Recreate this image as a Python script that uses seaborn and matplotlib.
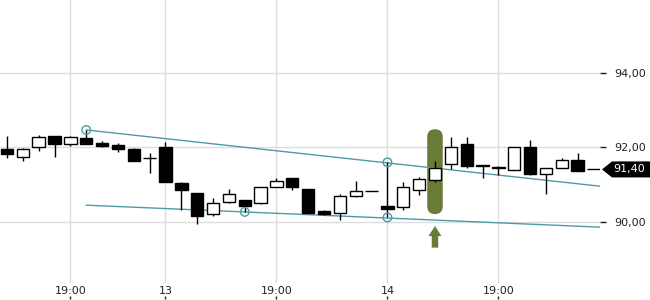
import numpy as np
import pandas as pd
import seaborn as sns
import matplotlib
matplotlib.use("Agg")
import matplotlib.pyplot as plt
import matplotlib.transforms as mtransforms
from matplotlib.patches import FancyBboxPatch, FancyArrow, Polygon

# ---- data -------------------------------------------------------------
opens = [91.95, 91.74, 91.99, 92.30, 92.07, 92.25, 92.10, 92.05, 91.95, 91.72,
         92.00, 91.03, 90.77, 90.19, 90.53, 90.57, 90.49, 90.94, 91.17, 90.87,
         90.28, 90.22, 90.69, 90.81, 90.42, 90.39, 90.86, 91.11, 91.54, 92.07,
         91.51, 91.46, 91.38, 91.99, 91.27, 91.43, 91.65, 91.40]
highs = [92.30, 91.97, 92.32, 92.30, 92.30, 92.46, 92.16, 92.10, 91.97, 91.84,
         92.14, 91.05, 90.77, 90.63, 90.87, 90.57, 90.92, 91.16, 91.17, 90.87,
         90.31, 90.75, 91.09, 90.81, 91.59, 91.05, 91.20, 91.63, 92.28, 92.26,
         91.51, 91.49, 91.99, 92.19, 91.43, 91.72, 91.83, 91.40]
lows = [91.70, 91.63, 91.90, 91.74, 92.03, 92.07, 92.01, 91.87, 91.63, 91.31,
        91.06, 90.32, 89.94, 90.16, 90.49, 90.26, 90.46, 90.92, 90.86, 90.24,
        90.18, 90.05, 90.67, 90.81, 90.11, 90.30, 90.72, 91.07, 91.40, 91.45,
        91.18, 91.25, 91.38, 91.25, 90.75, 91.43, 91.36, 91.40]
closes = [91.81, 91.95, 92.28, 92.09, 92.26, 92.07, 92.03, 91.95, 91.63, 91.72,
          91.07, 90.85, 90.16, 90.49, 90.73, 90.42, 90.92, 91.08, 90.92, 90.24,
          90.21, 90.68, 90.81, 90.81, 90.33, 90.92, 91.14, 91.45, 92.01, 91.50,
          91.48, 91.43, 91.99, 91.28, 91.43, 91.64, 91.36, 91.40]

xtick_pos = [4, 10, 17, 24, 31]
xtick_labels = ["19:00", "13", "19:00", "14", "19:00"]
ytick_vals = [90, 92, 94]
ytick_labels = ["90,00", "92,00", "94,00"]

upper_x = [5, 37.4]
upper_y = [92.46, 90.95]
lower_x = [5, 37.4]
lower_y = [90.44, 89.85]

touch_x = [5, 15, 24, 24]
touch_y = [92.46, 90.26, 91.59, 90.11]

highlight_idx = 27
last_price = closes[-1]

# ---- style ------------------------------------------------------------
sns.set_theme(style="white")
plt.rcParams["font.family"] = ["DejaVu Sans"]

TEAL = "#4f9aa5"
GREEN = "#687c38"
GRID = "#dddddd"
TXT = "#222222"

fig = plt.figure(figsize=(6.5, 3), dpi=100)
ax = fig.add_axes([0, 17 / 300, 600 / 650, 283 / 300])

df = pd.DataFrame({"i": np.arange(len(opens)), "o": opens, "h": highs,
                   "l": lows, "c": closes})
up = df["c"] >= df["o"]

# highlight behind the marked candle
hl = df.loc[highlight_idx]
box = FancyBboxPatch((highlight_idx - 0.49, hl["l"] - 0.87), 0.98,
                     (hl["h"] + 0.85) - (hl["l"] - 0.87),
                     boxstyle="round,pad=0,rounding_size=0.49",
                     mutation_aspect=15.85 / 37.25,
                     facecolor=GREEN, edgecolor="none", zorder=1)
ax.add_patch(box)
arrow = FancyArrow(highlight_idx, 89.30, 0, 0.58, width=0.41, head_width=0.82,
                   head_length=0.27, length_includes_head=True,
                   facecolor=GREEN, edgecolor="none", zorder=1)
ax.add_patch(arrow)

# trend lines
tl = pd.DataFrame({"x": upper_x + lower_x, "y": upper_y + lower_y,
                   "line": ["upper"] * 2 + ["lower"] * 2})
sns.lineplot(data=tl, x="x", y="y", units="line", estimator=None, color=TEAL,
             linewidth=1, ax=ax, zorder=2, sort=False)

# candle wicks and bodies
ax.vlines(df["i"], df["l"], df["h"], color="black", linewidth=1.0, zorder=3)
ax.bar(df["i"], (df["c"] - df["o"]).abs(), bottom=np.minimum(df["o"], df["c"]),
       width=0.78, color=np.where(up, "white", "black"), edgecolor="black",
       linewidth=1.0, zorder=4)

# touch circles
tp = pd.DataFrame({"x": touch_x, "y": touch_y})
sns.scatterplot(data=tp, x="x", y="y", s=38, facecolor="none",
                edgecolor=TEAL, linewidth=1.0, ax=ax, zorder=5)

# axes
ax.set_xlim(-0.44, 37.41)
ax.set_ylim(88.35, 95.95)
ax.set_xticks(xtick_pos)
ax.set_xticklabels(xtick_labels)
ax.set_yticks(ytick_vals)
ax.set_yticklabels(ytick_labels)
ax.yaxis.tick_right()
ax.tick_params(axis="x", length=0, pad=2, labelsize=8, labelcolor=TXT)
ax.tick_params(axis="y", length=4, width=1, pad=6, labelsize=8,
               labelcolor=TXT, color=TXT, right=True, left=False)
ax.grid(True, color=GRID, linewidth=1)
ax.set_axisbelow(True)
ax.set_xlabel("")
ax.set_ylabel("")
for s in ax.spines.values():
    s.set_visible(False)

sec = ax.secondary_xaxis(-0.055)
sec.set_xticks(xtick_pos)
sec.tick_params(direction="in", length=2.5, width=1, color=TXT,
                labelbottom=False)
for s in sec.spines.values():
    s.set_visible(False)

# last price tag
trans = mtransforms.blended_transform_factory(ax.transAxes, ax.transData)
h = 8 / 37.25
tag = Polygon([(602 / 600, last_price), (612 / 600, last_price + h),
               (655 / 600, last_price + h), (655 / 600, last_price - h),
               (612 / 600, last_price - h)], closed=True, transform=trans,
              facecolor="black", edgecolor="none", clip_on=False, zorder=6)
ax.add_patch(tag)
ax.text(613 / 600, last_price, "91,40", transform=trans, color="white",
        fontsize=8, va="center", ha="left", zorder=7, clip_on=False)

fig.savefig("out.png", dpi=100)
